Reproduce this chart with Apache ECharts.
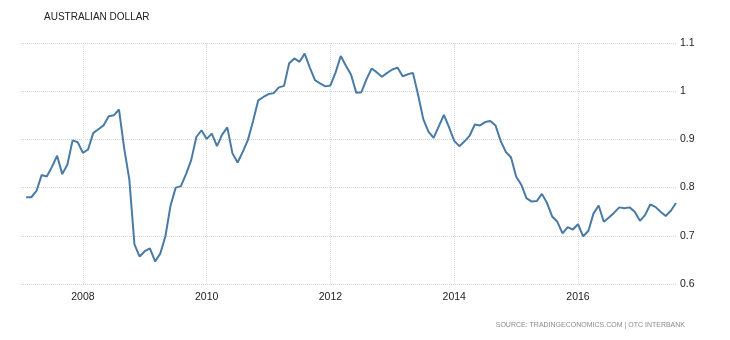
<!DOCTYPE html>
<html>
<head>
<meta charset="utf-8">
<script src="https://cdn.jsdelivr.net/npm/echarts@6/dist/echarts.min.js"></script>
<style>
  html, body { margin: 0; padding: 0; background: #fff; }
  #chart { width: 730px; height: 340px; }
</style>
</head>
<body>
<div id="chart"></div>
<script>
// monthly closes, end of month, starting Jan 2007
const startYear = 2007;
const audValues = [
  0.780, 0.780, 0.793, 0.826, 0.823, 0.843, 0.866, 0.828, 0.848, 0.898, 0.894, 0.872,
  0.879, 0.913, 0.921, 0.929, 0.948, 0.950, 0.962, 0.882, 0.817, 0.682, 0.657, 0.668,
  0.674, 0.647, 0.663, 0.699, 0.763, 0.800, 0.803, 0.828, 0.857, 0.905, 0.919, 0.901,
  0.912, 0.886, 0.910, 0.925, 0.871, 0.852, 0.874, 0.899, 0.938, 0.981, 0.988, 0.994,
  0.996, 1.008, 1.011, 1.058, 1.068, 1.061, 1.078, 1.049, 1.023, 1.016, 1.010, 1.012,
  1.039, 1.073, 1.053, 1.034, 0.997, 0.998, 1.025, 1.047, 1.039, 1.030, 1.038, 1.045,
  1.049, 1.031, 1.035, 1.038, 0.992, 0.942, 0.916, 0.903, 0.927, 0.951, 0.925, 0.897,
  0.886, 0.896, 0.908, 0.931, 0.929, 0.936, 0.938, 0.929, 0.897, 0.874, 0.863, 0.823,
  0.806, 0.778, 0.771, 0.772, 0.787, 0.768, 0.740, 0.729, 0.705, 0.718, 0.713, 0.724,
  0.699, 0.710, 0.746, 0.763, 0.729, 0.738, 0.748, 0.759, 0.757, 0.759, 0.750, 0.731,
  0.743, 0.765, 0.760, 0.750, 0.741, 0.752, 0.768
];
const yearTicks = [2008, 2010, 2012, 2014, 2016];

// x as decimal year at month end
const seriesData = audValues.map((v, i) => [startYear + (i + 1) / 12, v]);

const chart = echarts.init(document.getElementById("chart"));
chart.setOption({
  backgroundColor: "#fff",
  animation: false,
  textStyle: { fontFamily: "Liberation Sans, Arial, sans-serif" },
  title: [
    {
      text: "AUSTRALIAN DOLLAR",
      left: 44,
      top: 12,
      padding: 0,
      textStyle: { fontSize: 10, fontWeight: "normal", color: "#222" },
    },
    {
      text: "SOURCE: TRADINGECONOMICS.COM | OTC INTERBANK",
      right: 45,
      top: 322,
      padding: 0,
      textStyle: { fontSize: 7, fontWeight: "normal", color: "#8a8a8a" },
    },
  ],
  grid: { left: 21, right: 54, top: 43, bottom: 56 },
  xAxis: {
    type: "value",
    min: 2007,
    max: startYear + audValues.length / 12,
    axisLine: { show: false },
    axisTick: { show: false, customValues: yearTicks },
    axisLabel: {
      customValues: yearTicks,
      margin: 8,
      fontSize: 10.5,
      color: "#222",
      formatter: (v) => String(v),
    },
    splitLine: { show: true, lineStyle: { type: "dotted", color: "#dcdcdc", width: 1 } },
  },
  yAxis: {
    type: "value",
    position: "right",
    min: 0.6,
    max: 1.1,
    interval: 0.1,
    axisLine: { show: false },
    axisTick: { show: false },
    axisLabel: {
      margin: 4,
      fontSize: 10.5,
      color: "#222",
      formatter: (v) => String(Math.round(v * 10) / 10),
    },
    splitLine: { show: true, lineStyle: { type: "dotted", color: "#d2d2d2", width: 1 } },
  },
  series: [
    {
      type: "line",
      data: seriesData,
      showSymbol: false,
      symbol: "none",
      clip: false,
      lineStyle: { color: "#4a7aa6", width: 2 },
    },
  ],
});
</script>
</body>
</html>
